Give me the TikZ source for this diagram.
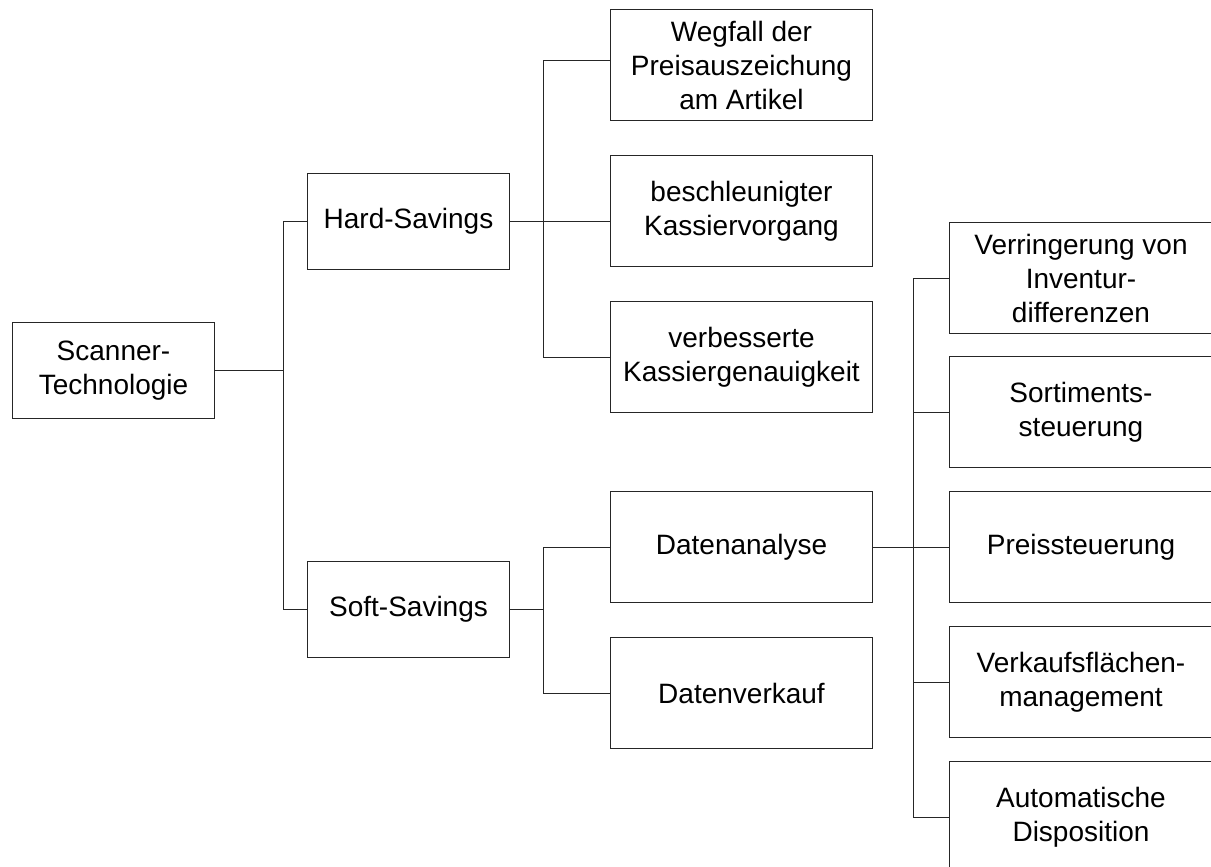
\documentclass[tikz,border=0pt]{standalone}
\usepackage{fontspec}
\setmainfont{Liberation Sans}
\begin{document}
\begin{tikzpicture}[x=1pt,y=-1pt,
  box/.style={draw=black!85, line width=1pt, rectangle, inner sep=0pt,
    anchor=north west, align=center, font=\fontsize{28}{34}\selectfont},
  lvlone/.style={box, minimum width=202pt, minimum height=96pt},
  lvltwo/.style={box, minimum width=262pt, minimum height=111pt},
  lvlthree/.style={box, minimum width=263pt, minimum height=111pt},
  link/.style={draw=black!85, line width=1pt}]
\useasboundingbox (0,0) rectangle (1211,867);
\clip (0,0) rectangle (1211,867);

% root and first level
\node[lvlone] (scan) at (12,322) {Scanner-\\Technologie};
\node[lvlone] (hard) at (307,173) {Hard-Savings};
\node[lvlone] (soft) at (307,561) {Soft-Savings};

% hard savings
\node[lvltwo] (wegfall) at (610,9) {Wegfall der\\Preisauszeichung\\am Artikel};
\node[lvltwo] (beschl) at (610,155) {beschleunigter\\Kassiervorgang};
\node[lvltwo] (verb) at (610,301) {verbesserte\\Kassiergenauigkeit};

% soft savings
\node[lvltwo] (analyse) at (610,491) {Datenanalyse};
\node[lvltwo] (verkauf) at (610,637) {Datenverkauf};

% data analysis
\node[lvlthree] (inv) at (949,222) {Verringerung von\\Inventur-\\differenzen};
\node[lvlthree] (sort) at (949,356) {Sortiments-\\steuerung};
\node[lvlthree] (preis) at (949,491) {Preissteuerung};
\node[lvlthree] (flaeche) at (949,626) {Verkaufsflächen-\\management};
\node[lvlthree] (dispo) at (949,761) {Automatische\\Disposition};

% vertical bus lines (x positions)
\coordinate (bx1) at (283,0);
\coordinate (bx2) at (543,0);
\coordinate (bx3) at (913,0);

% junctions on the bus lines, level with each parent
\coordinate (j1) at (scan.east -| bx1);
\coordinate (j2) at (hard.east -| bx2);
\coordinate (j3) at (soft.east -| bx2);
\coordinate (j4) at (analyse.east -| bx3);

% connectors
\draw[link] (scan.east) -- (j1) |- (hard.west);
\draw[link] (j1) |- (soft.west);

\draw[link] (hard.east) -- (hard.east -| beschl.west);
\draw[link] (j2) |- ([yshift=4pt]wegfall.west);
\draw[link] (j2) |- (verb.west);

\draw[link] (soft.east) -- (j3) |- (analyse.west);
\draw[link] (j3) |- (verkauf.west);

\draw[link] (analyse.east) -- (preis.west);
\draw[link] (j4) |- (inv.west);
\draw[link] (j4) |- (sort.west);
\draw[link] (j4) |- (flaeche.west);
\draw[link] (j4) |- (dispo.west);
\end{tikzpicture}
\end{document}
